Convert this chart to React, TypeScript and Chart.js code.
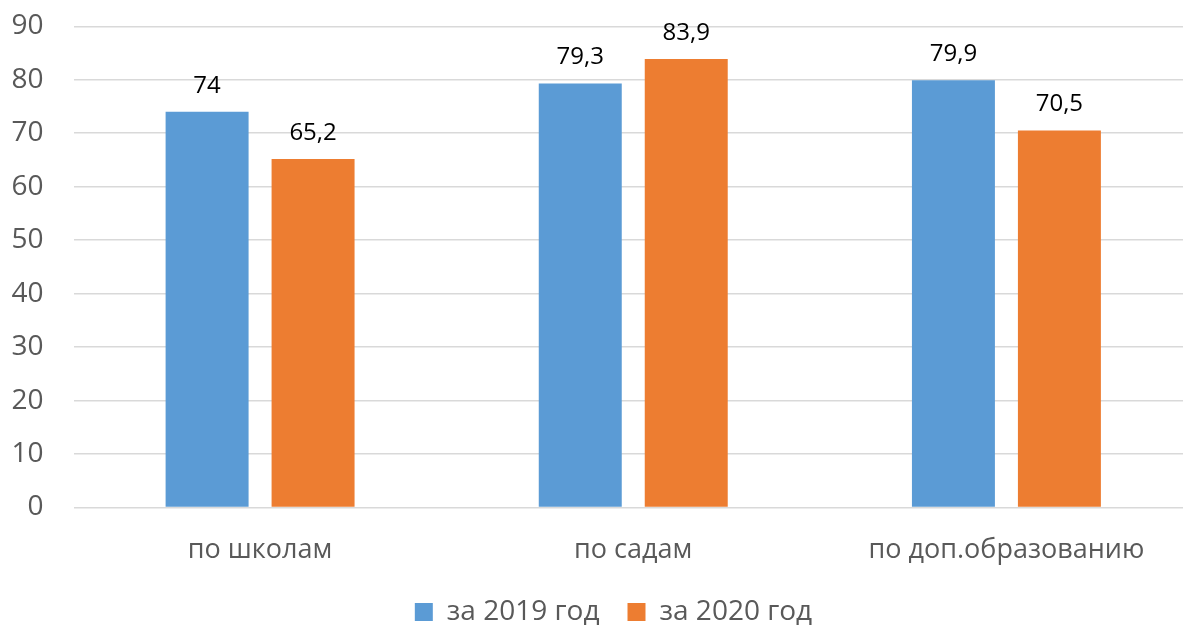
import React, { useEffect, useRef } from "react";
import { Chart, registerables } from "chart.js";

Chart.register(...registerables);

const categories = ["по школам", "по садам", "по доп.образованию"];
const series2019 = [74, 79.3, 79.9];
const series2020 = [65.2, 83.9, 70.5];
const seriesLabels = ["за 2019 год", "за 2020 год"];
const yTicks = [0, 10, 20, 30, 40, 50, 60, 70, 80, 90];

const FONT = "'Open Sans', 'Noto Sans', sans-serif";
const TEXT = "#595959";

const dataLabels = {
  id: "dataLabels",
  afterDatasetsDraw(chart: any) {
    const ctx = chart.ctx;
    ctx.save();
    ctx.font = `24px ${FONT}`;
    ctx.fillStyle = "#000000";
    ctx.textAlign = "center";
    ctx.textBaseline = "middle";
    chart.data.datasets.forEach((ds: any, di: number) => {
      const meta = chart.getDatasetMeta(di);
      meta.data.forEach((bar: any, i: number) => {
        const v = ds.data[i];
        ctx.fillText(String(v).replace(".", ","), bar.x, bar.y - 26);
      });
    });
    ctx.restore();
  },
};

const legendShift = {
  id: "legendShift",
  afterLayout(chart: any) {
    if (chart.legend) {
      chart.legend.left += 17;
      chart.legend.right += 17;
    }
  },
};

export default function App() {
  const ref = useRef<HTMLCanvasElement>(null);
  useEffect(() => {
    const chart = new Chart(ref.current!, {
      type: "bar",
      data: {
        labels: categories,
        datasets: [
          {
            label: seriesLabels[0],
            data: series2019,
            backgroundColor: "#5B9BD5",
            categoryPercentage: 0.568,
            barPercentage: 0.783,
          },
          {
            label: seriesLabels[1],
            data: series2020,
            backgroundColor: "#ED7D31",
            categoryPercentage: 0.568,
            barPercentage: 0.783,
          },
        ],
      },
      options: {
        responsive: false,
        animation: false,
        layout: { padding: { top: 26.3, bottom: -10, left: 0, right: 0 } },
        plugins: {
          tooltip: { enabled: false },
          legend: {
            position: "bottom",
            labels: {
              font: { family: FONT, size: 28 },
              color: TEXT,
              boxWidth: 18,
              boxHeight: 18,
              padding: 28,
            },
          },
        },
        scales: {
          x: {
            grid: { display: false, drawTicks: false },
            border: { display: false },
            ticks: {
              font: { family: FONT, size: 27 },
              color: TEXT,
              padding: 26.3,
            },
            afterFit(scale: any) {
              scale.height = 62.5;
            },
          },
          y: {
            min: 0,
            max: 90,
            afterBuildTicks(scale: any) {
              scale.ticks = yTicks.map((v) => ({ value: v }));
            },
            grid: { color: "#D9D9D9", lineWidth: 1.5, drawTicks: false },
            border: { display: false },
            ticks: {
              font: { family: FONT, size: 28 },
              color: TEXT,
              padding: 30,
            },
            afterFit(scale: any) {
              scale.width = 73.5;
              scale.paddingTop = 0;
              scale.paddingBottom = 0;
            },
          },
        },
      },
      plugins: [dataLabels, legendShift],
    });
    return () => chart.destroy();
  }, []);
  return (
    <div
      style={{
        position: "fixed",
        left: 0,
        top: 0,
        width: 1183,
        height: 626,
        overflow: "hidden",
        background: "#fff",
      }}
    >
      <canvas ref={ref} width={1193} height={626} style={{ display: "block" }} />
    </div>
  );
}
